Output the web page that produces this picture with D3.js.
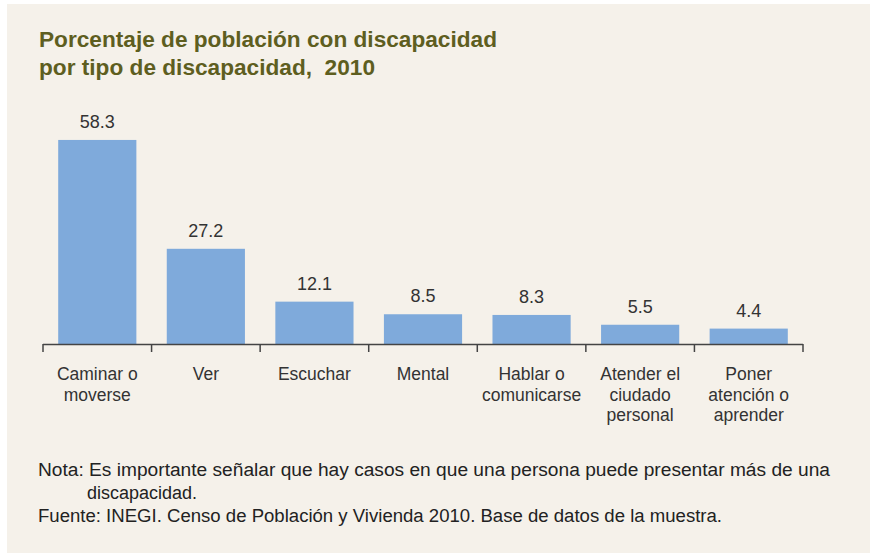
<!DOCTYPE html>
<html><head><meta charset="utf-8">
<script src="https://cdn.jsdelivr.net/npm/d3@7"></script>
<style>body{margin:0;background:#fff}svg{display:block}text{font-family:'Liberation Sans',Arial,sans-serif;white-space:pre}</style>
</head><body>
<script>
const categories = [["Caminar o","moverse"],["Ver"],["Escuchar"],["Mental"],["Hablar o","comunicarse"],["Atender el","ciudado","personal"],["Poner","atención o","aprender"]];
const values = [58.3, 27.2, 12.1, 8.5, 8.3, 5.5, 4.4];
const valueLabels = ["58.3","27.2","12.1","8.5","8.3","5.5","4.4"];
const titleLines = ["Porcentaje de población con discapacidad","por tipo de discapacidad,  2010"];
const noteLines = ["Nota: Es importante señalar que hay casos en que una persona puede presentar más de una","discapacidad.","Fuente: INEGI. Censo de Población y Vivienda 2010. Base de datos de la muestra."];

const W = 870, H = 555;
const svg = d3.select("body").append("svg").attr("width", W).attr("height", H);
svg.append("rect").attr("x",7).attr("y",4).attr("width",W-7).attr("height",H-6).attr("fill","#F5F1EA");

const x0 = 43, x1 = 803, yBase = 344;
const ids = d3.range(values.length);
const x = d3.scaleBand().domain(ids).range([x0, x1]).paddingInner(0.28).paddingOuter(0.14);
const y = d3.scaleLinear().domain([0, 100]).range([yBase, yBase - 350]);

const titleW = [458, 336];
svg.append("g").selectAll("text").data(titleLines).join("text")
  .attr("x", 39).attr("y", (d,i)=>47 + i*28)
  .attr("font-weight","bold").attr("font-size",22)
  .attr("textLength",(d,i)=>titleW[i]).attr("lengthAdjust","spacingAndGlyphs")
  .attr("fill","#5E5E1F").text(d=>d);

svg.append("g").selectAll("rect").data(values).join("rect")
  .attr("x",(d,i)=>x(i)).attr("width",x.bandwidth())
  .attr("y",d=>y(d)).attr("height",d=>yBase - y(d))
  .attr("fill","#7FAADB");

svg.append("g").selectAll("text").data(values).join("text")
  .attr("x",(d,i)=>x(i)+x.bandwidth()/2).attr("y",d=>y(d)-12)
  .attr("text-anchor","middle")
  .attr("font-size",18).attr("fill","#333").text((d,i)=>valueLabels[i]);

// axis
const step = (x1 - x0) / values.length;
const ax = svg.append("g");
ax.append("line").attr("x1",x0).attr("x2",x1).attr("y1",yBase+0.5).attr("y2",yBase+0.5).attr("stroke","#444").attr("stroke-width",1.5);
ax.selectAll("line.t").data(d3.range(values.length+1)).join("line").attr("class","t")
  .attr("x1",i=>x0+i*step).attr("x2",i=>x0+i*step).attr("y1",yBase).attr("y2",yBase+8)
  .attr("stroke","#444").attr("stroke-width",1.5);

const cat = svg.append("g").selectAll("text").data(categories).join("text")
  .attr("text-anchor","middle")
  .attr("font-size",17.5).attr("fill","#333");
cat.each(function(lines,i){
  d3.select(this).selectAll("tspan").data(lines).join("tspan")
    .attr("x", x(i)+x.bandwidth()/2).attr("y",(d,j)=>380 + j*20.5).text(d=>d);
});

const noteW = [792, 110, 684];
svg.append("g").selectAll("text").data(noteLines).join("text")
  .attr("x",(d,i)=>i===1?87:38).attr("y",(d,i)=>476 + i*23)
  .attr("font-size",18).attr("textLength",(d,i)=>noteW[i]).attr("lengthAdjust","spacingAndGlyphs")
  .attr("fill","#222").text(d=>d);
</script>
</body></html>
